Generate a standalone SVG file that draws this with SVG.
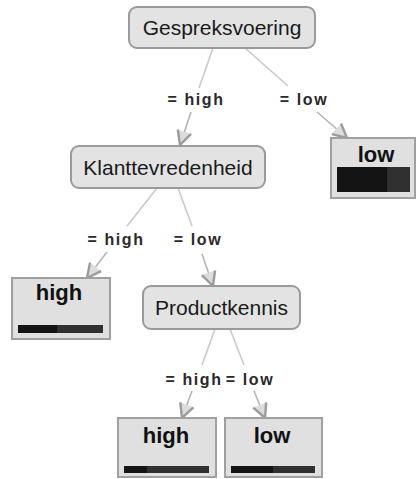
<svg xmlns="http://www.w3.org/2000/svg" width="417" height="479" viewBox="0 0 417 479">
  <style>
    .split rect { fill: #e3e3e3; stroke: #9a9a9a; stroke-width: 2; }
    .split text { font-family: "Liberation Sans", Arial, sans-serif; font-size: 21px; fill: #1a1a1a; text-anchor: middle; }
    .leaf rect.box { fill: #e0e0e0; stroke: #a0a0a0; stroke-width: 2; }
    .leaf text { font-family: "Liberation Sans", Arial, sans-serif; font-size: 22px; font-weight: bold; fill: #111; text-anchor: middle; }
    .leaf .c1 { fill: #141414; }
    .leaf .c2 { fill: #303030; }
    .edge line { stroke: #cacaca; stroke-width: 1.6; fill: none; }
    .edge line.tip { stroke: #b4b4b4; marker-end: url(#arrow); }
    .edge text { font-family: "Liberation Sans", Arial, sans-serif; font-size: 16px; font-weight: bold; fill: #2a2a2a; text-anchor: middle; letter-spacing: 1.6px; }
  </style>
  <defs>
    <!-- open barbed arrowhead -->
    <marker id="arrow" markerUnits="userSpaceOnUse" viewBox="0 0 18 18" refX="16" refY="9" markerWidth="18" markerHeight="18" orient="auto">
      <path d="M2,2 L16,9 L2,16" fill="#dcdcdc" stroke="#9c9c9c" stroke-width="2.4" stroke-linejoin="miter"/>
    </marker>
  </defs>

  <!-- connectors: each edge is split around its label -->
  <g id="connectors">
    <g class="edge">
      <line x1="213" y1="48" x2="199" y2="88"/>
      <line class="tip" x1="191" y1="112" x2="180" y2="145"/>
      <text x="196" y="105">= high</text>
    </g>
    <g class="edge">
      <line x1="245" y1="48" x2="288" y2="86"/>
      <line class="tip" x1="317" y1="112" x2="347" y2="138"/>
      <text x="304" y="105">= low</text>
    </g>
    <g class="edge">
      <line x1="157" y1="188" x2="127" y2="226"/>
      <line class="tip" x1="107" y1="252" x2="87" y2="278"/>
      <text x="116" y="245">= high</text>
    </g>
    <g class="edge">
      <line x1="178" y1="188" x2="192" y2="226"/>
      <line class="tip" x1="202" y1="254" x2="213" y2="286"/>
      <text x="198" y="245">= low</text>
    </g>
    <g class="edge">
      <line x1="215" y1="329" x2="202" y2="365"/>
      <line class="tip" x1="192" y1="391" x2="182" y2="418"/>
      <text x="194" y="385">= high</text>
    </g>
    <g class="edge">
      <line x1="230" y1="329" x2="244" y2="365"/>
      <line class="tip" x1="254" y1="391" x2="265" y2="418"/>
      <text x="250" y="385">= low</text>
    </g>
  </g>

  <!-- split nodes -->
  <g id="gespreksvoering" class="split">
    <rect x="129" y="7" width="186" height="41" rx="8"/>
    <text x="222" y="35">Gespreksvoering</text>
  </g>
  <g id="klanttevredenheid" class="split">
    <rect x="71" y="146" width="194" height="42" rx="8"/>
    <text x="168" y="175">Klanttevredenheid</text>
  </g>
  <g id="productkennis" class="split">
    <rect x="143" y="286" width="157" height="43" rx="8"/>
    <text x="221.5" y="315">Productkennis</text>
  </g>

  <!-- leaf nodes with class distribution bars -->
  <g id="leaf-gesp-low" class="leaf">
    <rect class="box" x="331" y="138" width="84" height="60"/>
    <text x="376" y="162">low</text>
    <rect class="c1" x="337" y="167" width="50" height="25"/>
    <rect class="c2" x="387" y="167" width="23" height="25"/>
  </g>
  <g id="leaf-klant-high" class="leaf">
    <rect class="box" x="12" y="278" width="98" height="61"/>
    <text x="59" y="300">high</text>
    <rect class="c1" x="18" y="325" width="39" height="8"/>
    <rect class="c2" x="57" y="325" width="46" height="8"/>
  </g>
  <g id="leaf-prod-high" class="leaf">
    <rect class="box" x="118" y="418" width="98" height="59"/>
    <text x="166" y="443">high</text>
    <rect class="c1" x="124" y="466" width="23" height="7"/>
    <rect class="c2" x="147" y="466" width="62" height="7"/>
  </g>
  <g id="leaf-prod-low" class="leaf">
    <rect class="box" x="225" y="418" width="97" height="59"/>
    <text x="272" y="443">low</text>
    <rect class="c1" x="231" y="466" width="42" height="7"/>
    <rect class="c2" x="273" y="466" width="42" height="7"/>
  </g>
</svg>
